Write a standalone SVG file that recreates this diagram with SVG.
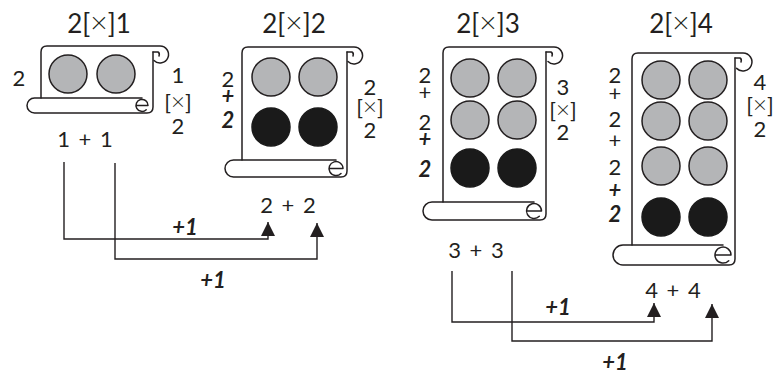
<svg xmlns="http://www.w3.org/2000/svg" width="775" height="375" viewBox="0 0 775 375">
<defs>
<style>
.t{font-family:Lato,"Open Sans","Liberation Sans",sans-serif;fill:#231f20;text-anchor:middle}
.ti{font-size:26px}
.l{font-size:22px}
.bi{font-weight:bold;font-style:italic}
.xl{font-size:30px;font-weight:300}
.xs{font-size:24px;font-weight:300}
.sum{word-spacing:3px}
.sc{fill:none;stroke:#231f20;stroke-width:1.5;stroke-linejoin:round;stroke-linecap:round}
.g{fill:#b4b5b7;stroke:#231f20;stroke-width:1.5}
.k{fill:#1a1a1a;stroke:#1a1a1a;stroke-width:1.5}
.c{fill:none;stroke:#231f20;stroke-width:1.4}
</style>
<marker id="ah" markerUnits="userSpaceOnUse" viewBox="0 0 14 14" markerWidth="14" markerHeight="14" refX="14" refY="7" orient="auto">
<path d="M0,0 L14,7 L0,14 z" fill="#231f20"/>
</marker>
</defs>
<rect width="775" height="375" fill="#fff"/>

<g id="scroll1">
<path class="sc" d="M41,98 V52 Q41,46 47,46 H160 A8.5,8.5 0 1 1 154,60.5"/>
<path class="sc" d="M153,52 H158 Q160,53 159,56"/>
<path class="sc" d="M153,52 V107 Q153,113 147,113 H34.5 A7.5,7.5 0 0 1 34.5,98 H142"/>
<path class="sc" d="M136,105.5 H148 A6,6 0 1 0 146.2,109.7"/>
<circle class="g" cx="68" cy="74" r="19"/>
<circle class="g" cx="116" cy="74" r="19"/>
<text class="t ti" x="99" y="33">2[<tspan class="xl">×</tspan>]1</text>
<text class="t l" x="19" y="86">2</text>
<text class="t l"><tspan x="178" y="83">1</tspan><tspan x="178" y="110">[<tspan class="xs">×</tspan>]</tspan><tspan x="178" y="134">2</tspan></text>
<text class="t l sum" x="85" y="147">1 + 1</text>
</g>

<g id="scroll2">
<path class="sc" d="M242,160 V53 Q242,47 248,47 H354 A8.5,8.5 0 1 1 348,61.5"/>
<path class="sc" d="M347,52 H352 Q354,53 353,56"/>
<path class="sc" d="M347,52 V171 Q347,177 341,177 H233.5 A8.5,8.5 0 0 1 233.5,160 H336"/>
<path class="sc" d="M329,168.5 H343 A7,7 0 1 0 341,173.5"/>
<circle class="g" cx="271" cy="77" r="19"/>
<circle class="g" cx="318" cy="77" r="19"/>
<circle class="k" cx="271" cy="127" r="19"/>
<circle class="k" cx="318" cy="127" r="19"/>
<text class="t ti" x="294" y="33">2[<tspan class="xl">×</tspan>]2</text>
<text class="t l"><tspan x="228" y="87">2</tspan><tspan class="bi" x="228" y="104">+</tspan><tspan class="bi" x="228" y="128">2</tspan></text>
<text class="t l"><tspan x="370" y="95">2</tspan><tspan x="370" y="115">[<tspan class="xs">×</tspan>]</tspan><tspan x="370" y="138">2</tspan></text>
<text class="t l sum" x="288" y="213">2 + 2</text>
</g>

<g id="scroll3">
<path class="sc" d="M443,202 V53 Q443,47 449,47 H554 A8.5,8.5 0 1 1 548,61.5"/>
<path class="sc" d="M546,52 H551 Q553,53 552,56"/>
<path class="sc" d="M546,52 V214 Q546,220 540,220 H432 A9,9 0 0 1 432,202 H534"/>
<path class="sc" d="M526.5,211 H541.5 A7.5,7.5 0 1 0 539.3,216.3"/>
<circle class="g" cx="470" cy="78" r="19"/>
<circle class="g" cx="517" cy="78" r="19"/>
<circle class="g" cx="470" cy="120" r="19"/>
<circle class="g" cx="517" cy="120" r="19"/>
<circle class="k" cx="470" cy="168" r="19"/>
<circle class="k" cx="517" cy="168" r="19"/>
<text class="t ti" x="488" y="33">2[<tspan class="xl">×</tspan>]3</text>
<text class="t l"><tspan x="425" y="83">2</tspan><tspan x="425" y="100">+</tspan><tspan x="425" y="130">2</tspan><tspan class="bi" x="425" y="147">+</tspan><tspan class="bi" x="425" y="177">2</tspan></text>
<text class="t l"><tspan x="563" y="95">3</tspan><tspan x="563" y="118">[<tspan class="xs">×</tspan>]</tspan><tspan x="563" y="140">2</tspan></text>
<text class="t l sum" x="476" y="258">3 + 3</text>
</g>

<g id="scroll4">
<path class="sc" d="M632,245 V59 Q632,53 638,53 H743 A9,9 0 1 1 736.6,68.4"/>
<path class="sc" d="M735,58 H740 Q742,59 741,62"/>
<path class="sc" d="M735,58 V259 Q735,265 729,265 H623 A10,10 0 0 1 623,245 H723"/>
<path class="sc" d="M715,255 H731 A8,8 0 1 0 728.7,260.7"/>
<circle class="g" cx="661" cy="80" r="19"/>
<circle class="g" cx="708" cy="80" r="19"/>
<circle class="g" cx="661" cy="121" r="19"/>
<circle class="g" cx="708" cy="121" r="19"/>
<circle class="g" cx="661" cy="166" r="19"/>
<circle class="g" cx="708" cy="166" r="19"/>
<circle class="k" cx="661" cy="217" r="19"/>
<circle class="k" cx="708" cy="217" r="19"/>
<text class="t ti" x="681" y="33">2[<tspan class="xl">×</tspan>]4</text>
<text class="t l"><tspan x="615" y="83">2</tspan><tspan x="615" y="101">+</tspan><tspan x="615" y="127">2</tspan><tspan x="615" y="148">+</tspan><tspan x="615" y="175">2</tspan><tspan class="bi" x="615" y="198">+</tspan><tspan class="bi" x="615" y="222">2</tspan></text>
<text class="t l"><tspan x="760" y="90">4</tspan><tspan x="760" y="113">[<tspan class="xs">×</tspan>]</tspan><tspan x="760" y="137">2</tspan></text>
<text class="t l sum" x="673" y="298">4 + 4</text>
</g>

<g id="connectors">
<path class="c" d="M64,162 V239 H268 V222" marker-end="url(#ah)"/>
<path class="c" d="M115,163 V259 H317 V223" marker-end="url(#ah)"/>
<path class="c" d="M452,271 V322 H654 V303" marker-end="url(#ah)"/>
<path class="c" d="M512,271 V341 H712 V304" marker-end="url(#ah)"/>
<text class="t l bi" x="185" y="235">+1</text>
<text class="t l bi" x="213" y="288">+1</text>
<text class="t l bi" x="558" y="315">+1</text>
<text class="t l bi" x="615" y="370">+1</text>
</g>
</svg>
